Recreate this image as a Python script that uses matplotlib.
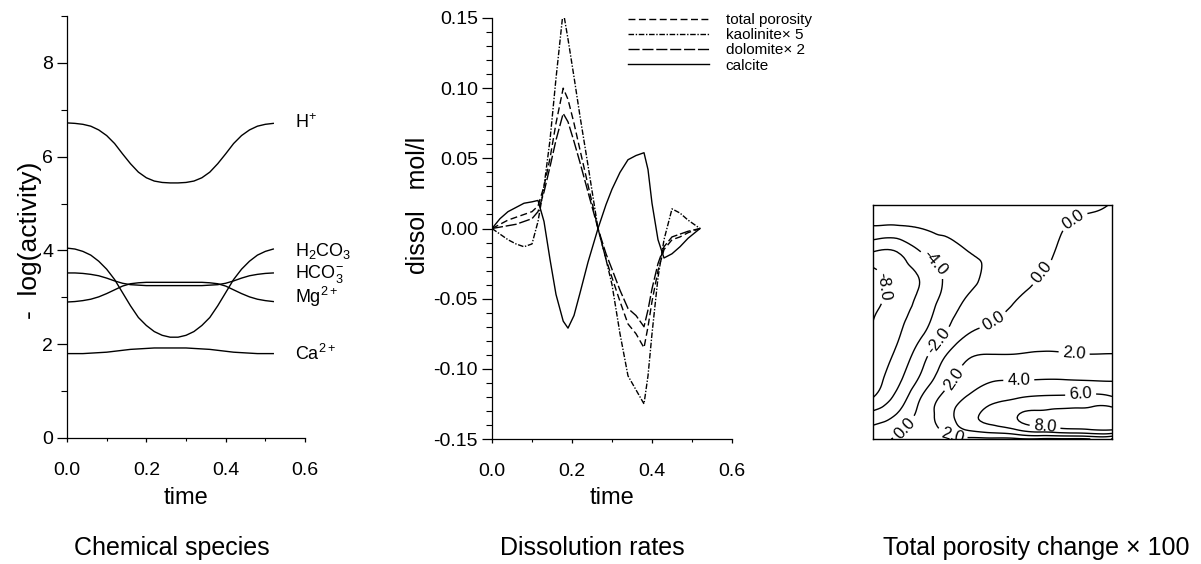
import numpy as np
import matplotlib
matplotlib.use('Agg')
import matplotlib.pyplot as plt
import matplotlib.tri as mtri
from matplotlib.ticker import MultipleLocator
from matplotlib.lines import Line2D

plt.rcParams['font.family'] = ['Liberation Sans', 'DejaVu Sans']
plt.rcParams['mathtext.fontset'] = 'custom'
plt.rcParams['mathtext.rm'] = 'Liberation Sans'
plt.rcParams['mathtext.it'] = 'Liberation Sans'

## Chemical species: -log(activity) along time
time1 = [0.00, 0.02, 0.04, 0.06, 0.08, 0.10, 0.12, 0.14, 0.16, 0.18, 0.20, 0.22, 0.24, 0.26,
         0.28, 0.30, 0.32, 0.34, 0.36, 0.38, 0.40, 0.42, 0.44, 0.46, 0.48, 0.50, 0.52]
h_plus = [6.72, 6.71, 6.69, 6.65, 6.57, 6.45, 6.28, 6.06, 5.85, 5.67, 5.55, 5.48, 5.45, 5.44,
          5.44, 5.45, 5.48, 5.55, 5.67, 5.85, 6.06, 6.28, 6.45, 6.57, 6.65, 6.69, 6.71]
h2co3 = [4.05, 4.03, 3.98, 3.90, 3.77, 3.60, 3.38, 3.10, 2.82, 2.57, 2.40, 2.27, 2.19, 2.15,
         2.15, 2.19, 2.27, 2.40, 2.57, 2.82, 3.10, 3.38, 3.60, 3.77, 3.90, 3.98, 4.03]
hco3 = [3.52, 3.52, 3.51, 3.49, 3.46, 3.41, 3.35, 3.30, 3.27, 3.26, 3.25, 3.25, 3.25, 3.25,
        3.25, 3.25, 3.25, 3.25, 3.26, 3.27, 3.30, 3.35, 3.41, 3.46, 3.49, 3.51, 3.52]
mg = [2.90, 2.91, 2.93, 2.96, 3.01, 3.08, 3.16, 3.24, 3.29, 3.31, 3.32, 3.32, 3.32, 3.32,
      3.32, 3.32, 3.32, 3.32, 3.31, 3.29, 3.24, 3.16, 3.08, 3.01, 2.96, 2.93, 2.91]
ca = [1.80, 1.80, 1.80, 1.81, 1.82, 1.83, 1.85, 1.87, 1.89, 1.90, 1.91, 1.92, 1.92, 1.92,
      1.92, 1.92, 1.91, 1.90, 1.89, 1.87, 1.85, 1.83, 1.82, 1.81, 1.80, 1.80, 1.80]
species_names = ['H$^{+}$', 'H$_{2}$CO$_{3}$', 'HCO$_{3}^{-}$', 'Mg$^{2+}$', 'Ca$^{2+}$']
species_label_y = [6.72, 3.98, 3.50, 3.0, 1.79]

## Dissolution rates
time2 = [0.0, 0.02, 0.04, 0.06, 0.08, 0.10, 0.115, 0.13, 0.145, 0.16, 0.178, 0.19, 0.205,
         0.22, 0.24, 0.265, 0.285, 0.30, 0.32, 0.34, 0.36, 0.38, 0.39, 0.40, 0.415, 0.43,
         0.45, 0.47, 0.49, 0.52]
total_por = [0.0, 0.003, 0.006, 0.008, 0.010, 0.012, 0.016, 0.030, 0.050, 0.075, 0.100, 0.092,
             0.075, 0.056, 0.031, 0.0, -0.022, -0.035, -0.052, -0.068, -0.075, -0.085, -0.070,
             -0.052, -0.030, -0.015, -0.008, -0.006, -0.003, 0.0]
kaolinite = [0.0, -0.004, -0.008, -0.011, -0.013, -0.011, 0.005, 0.030, 0.063, 0.107, 0.155,
             0.135, 0.108, 0.080, 0.045, 0.0, -0.022, -0.040, -0.075, -0.105, -0.115, -0.125,
             -0.105, -0.075, -0.035, -0.008, 0.014, 0.011, 0.006, 0.0]
dolomite = [0.0, 0.001, 0.002, 0.003, 0.005, 0.007, 0.012, 0.026, 0.044, 0.063, 0.082, 0.076,
            0.062, 0.047, 0.026, 0.0, -0.018, -0.029, -0.044, -0.057, -0.062, -0.070, -0.058,
            -0.043, -0.025, -0.013, -0.006, -0.004, -0.002, 0.0]
calcite = [0.0, 0.007, 0.012, 0.015, 0.018, 0.019, 0.020, 0.005, -0.022, -0.047, -0.066, -0.071,
           -0.062, -0.046, -0.024, 0.0, 0.017, 0.028, 0.040, 0.049, 0.052, 0.054, 0.042, 0.018,
           -0.008, -0.021, -0.018, -0.013, -0.007, 0.0]
rate_names = ['total porosity', 'kaolinite\u00d7 5', 'dolomite\u00d7 2', 'calcite']

## Total porosity change x 100 (rows = pore_y, columns = pore_x)
pore_x = [0.0, 0.1, 0.2, 0.3, 0.4, 0.5, 0.6, 0.7, 0.8, 0.9, 1.0]
pore_y = [0.0, 0.04, 0.10, 0.17, 0.25, 0.35, 0.45, 0.55, 0.62, 0.70, 0.80, 0.90, 1.0]
pore_change = [
    [-1.0, 0.3, 1.3, 1.4, 1.5, 1.6, 1.7, 1.8, 1.8, 1.9, 1.9],
    [-1.6, -0.5, 1.2, 2.3, 4.2, 5.0, 6.0, 7.0, 7.6, 7.9, 8.1],
    [-3.2, -1.8, 0.7, 3.0, 5.4, 6.6, 7.9, 8.6, 9.0, 9.2, 9.4],
    [-5.8, -3.3, 0.1, 2.6, 4.4, 5.6, 6.1, 6.5, 6.6, 6.8, 6.5],
    [-7.0, -4.5, -1.5, 1.3, 3.0, 3.9, 4.0, 4.1, 4.1, 4.0, 3.9],
    [-7.6, -5.5, -2.8, 0.0, 1.9, 2.2, 2.2, 2.3, 2.2, 2.1, 2.1],
    [-7.9, -6.3, -4.3, -2.0, 0.0, 0.6, 1.0, 1.3, 1.5, 1.6, 1.7],
    [-8.3, -6.8, -5.2, -3.0, -1.4, -0.5, 0.3, 0.8, 1.1, 1.3, 1.4],
    [-8.8, -7.2, -5.7, -3.6, -2.0, -1.2, -0.2, 0.4, 0.9, 1.1, 1.2],
    [-8.6, -7.0, -5.8, -3.8, -2.4, -1.6, -0.7, 0.0, 0.6, 0.9, 1.0],
    [-6.0, -6.0, -4.0, -2.9, -2.0, -1.7, -1.1, -0.5, 0.3, 0.6, 0.7],
    [-2.3, -2.4, -2.0, -1.6, -1.4, -1.2, -1.0, -0.6, 0.0, 0.3, 0.4],
    [-1.3, -1.2, -1.1, -1.0, -0.9, -0.8, -0.7, -0.5, -0.3, -0.2, 0.05],
]
pore_levels = [-8, -6, -4, -2, 0, 2, 4, 6, 8]


W, H = 1201, 564
fig = plt.figure(figsize=(W / 100, H / 100), dpi=100)


def px(x, y):
    return x / W, 1 - y / H


def box(x0, y0, x1, y1):
    return [x0 / W, 1 - y1 / H, (x1 - x0) / W, (y1 - y0) / H]


def style_axis(ax):
    ax.spines['top'].set_visible(False)
    ax.spines['right'].set_visible(False)
    ax.tick_params(axis='y', which='major', direction='out', length=7, width=0.9, pad=3, labelsize=14)
    ax.tick_params(axis='y', which='minor', direction='out', length=4, width=0.8)
    ax.tick_params(axis='x', which='major', direction='out', length=3, width=0.9, pad=14, labelsize=14)
    ax.tick_params(axis='x', which='minor', direction='out', length=2, width=0.8)
    for s in ax.spines.values():
        s.set_linewidth(0.9)


## Graph 1 - chemical species
ax1 = fig.add_axes(box(67, 16, 305, 438))
for vals in [h_plus, h2co3, hco3, mg, ca]:
    ax1.plot(time1, vals, color='black', lw=1.0)
for name, yv in zip(species_names, species_label_y):
    ax1.text(0.575, yv, name, fontsize=13, va='center', ha='left')
ax1.set_xlim(0, 0.6)
ax1.set_ylim(0, 9)
ax1.set_xticks([0.0, 0.2, 0.4, 0.6])
ax1.set_xticklabels(['0.0', '0.2', '0.4', '0.6'])
ax1.set_yticks([0, 2, 4, 6, 8])
ax1.xaxis.set_minor_locator(MultipleLocator(0.1))
ax1.yaxis.set_minor_locator(MultipleLocator(1))
style_axis(ax1)
ax1.set_xlabel('time', fontsize=17)
ax1.xaxis.set_label_coords(0.5, -(498 - 438) / 422)
ax1.xaxis.label.set_va('center')
ax1.set_ylabel('-  log(activity)', fontsize=19)
ax1.yaxis.set_label_coords(-(67 - 30) / 238, (438 - 240) / 422)
ax1.yaxis.label.set_va('center')

## Graph 2 - dissolution rates
ax2 = fig.add_axes(box(492, 18, 732, 439))
styles = [(0, (5, 2.5)), (0, (4, 1.2, 1, 1.2)), (0, (8, 2)), '-']
handles = []
for vals, ls in zip([total_por, kaolinite, dolomite, calcite], styles):
    ax2.plot(time2, vals, color='black', lw=1.0, linestyle=ls)
    handles.append(Line2D([], [], color='black', lw=1.0, linestyle=ls))
ax2.set_xlim(0, 0.6)
ax2.set_ylim(-0.15, 0.15)
ax2.set_xticks([0.0, 0.2, 0.4, 0.6])
ax2.set_xticklabels(['0.0', '0.2', '0.4', '0.6'])
ax2.set_yticks([-0.15, -0.10, -0.05, 0.0, 0.05, 0.10, 0.15])
ax2.set_yticklabels(['-0.15', '-0.10', '-0.05', '0.00', '0.05', '0.10', '0.15'])
ax2.xaxis.set_minor_locator(MultipleLocator(0.1))
ax2.yaxis.set_minor_locator(MultipleLocator(0.01))
style_axis(ax2)
ax2.set_xlabel('time', fontsize=17)
ax2.xaxis.set_label_coords(0.5, -(498 - 439) / 421)
ax2.xaxis.label.set_va('center')
ax2.set_ylabel('dissol   mol/l', fontsize=18)
ax2.yaxis.set_label_coords(-(492 - 418) / 240, (439 - 205) / 421)
ax2.yaxis.label.set_va('center')
ax2.legend(handles, rate_names, loc='upper left', bbox_to_anchor=px(628, 13),
           bbox_transform=fig.transFigure, frameon=False, fontsize=11,
           handlelength=5.3, handletextpad=1.1, labelspacing=0.08,
           borderpad=0, borderaxespad=0)

## Graph 3 - porosity change contours
ax3 = fig.add_axes(box(873, 205, 1112, 439))
gx, gy = np.meshgrid(pore_x, pore_y)
triang = mtri.Triangulation(gx.ravel(), gy.ravel())
refiner = mtri.UniformTriRefiner(triang)
tri_ref, z_ref = refiner.refine_field(np.array(pore_change).ravel(), subdiv=3)
cs = ax3.tricontour(tri_ref, z_ref, levels=pore_levels, colors='black',
                    linewidths=1.0, linestyles='solid')
label_spots = [(0.03, 0.65), (0.25, 0.74), (0.27, 0.42), (0.50, 0.51), (0.71, 0.71),
               (0.83, 0.95), (0.13, 0.05), (0.84, 0.35), (0.33, 0.265), (0.33, 0.01),
               (0.61, 0.25), (0.87, 0.175), (0.72, 0.055)]
ax3.clabel(cs, manual=label_spots, fmt='%.1f', fontsize=12, inline=True, inline_spacing=4)
ax3.set_xlim(0, 1)
ax3.set_ylim(0, 1)
ax3.set_xticks([])
ax3.set_yticks([])
for s in ax3.spines.values():
    s.set_linewidth(1.0)

## Captions
fig.text(*px(172, 548), 'Chemical species', fontsize=18, ha='center', va='center')
fig.text(*px(592, 548), 'Dissolution rates', fontsize=18, ha='center', va='center')
fig.text(*px(1036, 548), 'Total porosity change \u00d7 100', fontsize=18, ha='center', va='center')

fig.savefig('out.png', dpi=100)
